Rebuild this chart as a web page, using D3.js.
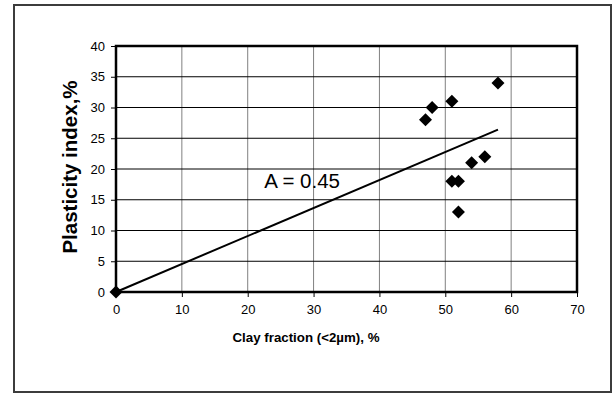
<!DOCTYPE html>
<html>
<head>
<meta charset="utf-8">
<script src="https://cdn.jsdelivr.net/npm/d3@7"></script>
<style>
  html, body { margin: 0; padding: 0; background: #fff; }
  svg { display: block; font-family: "Liberation Sans", Arial, sans-serif; }
</style>
</head>
<body>
<svg id="chart" width="614" height="394"></svg>
<script>
// ---- data ----
const clayFraction = [0, 47, 48, 51, 58, 56, 54, 51, 52, 52];
const plasticityIndex = [0, 28, 30, 31, 34, 22, 21, 18, 18, 13];
const lineX = [0, 58];
const lineY = [0, 26.4];
const xTicks = [0, 10, 20, 30, 40, 50, 60, 70];
const yTicks = [0, 5, 10, 15, 20, 25, 30, 35, 40];
const xTitle = "Clay fraction (<2\u00B5m), %";
const yTitle = "Plasticity index,%";
const annotation = "A = 0.45";

const svg = d3.select("#chart");
const L = 116, R = 577, T = 46, B = 292;
const x = d3.scaleLinear().domain([0, 70]).range([L, R]);
const y = d3.scaleLinear().domain([0, 40]).range([B, T]);

// outer frame
svg.append("rect").attr("x", 14).attr("y", 5).attr("width", 597).attr("height", 387)
  .attr("fill", "#fff").attr("stroke", "#3c3c3c").attr("stroke-width", 2);

// gridlines
svg.append("g").selectAll("line").data(xTicks.filter(d => d > 0 && d < 70)).join("line")
  .attr("x1", d => x(d)).attr("x2", d => x(d)).attr("y1", T).attr("y2", B)
  .attr("stroke", "#808080").attr("stroke-width", 1);
svg.append("g").selectAll("line").data(yTicks.filter(d => d > 0 && d < 40)).join("line")
  .attr("x1", L).attr("x2", R).attr("y1", d => y(d)).attr("y2", d => y(d))
  .attr("stroke", "#000").attr("stroke-width", 1);

// axes
const xAxis = svg.append("g").attr("transform", `translate(0,${B})`)
  .call(d3.axisBottom(x).tickValues(xTicks).tickSize(5).tickPadding(8));
const yAxis = svg.append("g").attr("transform", `translate(${L},0)`)
  .call(d3.axisLeft(y).tickValues(yTicks).tickSize(5).tickPadding(6));
[xAxis, yAxis].forEach(g => {
  g.select(".domain").remove();
  g.selectAll(".tick line").attr("stroke", "#000").attr("stroke-width", 1);
  g.selectAll(".tick text").attr("fill", "#000").attr("font-size", 13)
    .attr("font-family", "Liberation Sans, Arial, sans-serif");
});

// plot border
svg.append("rect").attr("x", L).attr("y", T).attr("width", R - L).attr("height", B - T)
  .attr("fill", "none").attr("stroke", "#000").attr("stroke-width", 2.5);

// trend line
svg.append("line")
  .attr("x1", x(lineX[0])).attr("y1", y(lineY[0]))
  .attr("x2", x(lineX[1])).attr("y2", y(lineY[1]))
  .attr("stroke", "#000").attr("stroke-width", 2);

// points (diamonds)
const h = 6.5;
svg.append("g").selectAll("path").data(clayFraction.map((c, i) => [c, plasticityIndex[i]])).join("path")
  .attr("d", d => {
    const cx = x(d[0]), cy = y(d[1]);
    return `M${cx},${cy - h}L${cx + h},${cy}L${cx},${cy + h}L${cx - h},${cy}Z`;
  })
  .attr("fill", "#000");

// annotation
svg.append("text").attr("x", x(22.5)).attr("y", 188).attr("font-size", 20.5)
  .attr("fill", "#000").text(annotation);

// axis titles
svg.append("text").attr("x", 306).attr("y", 342)
  .attr("text-anchor", "middle").attr("font-size", 13.3).attr("font-weight", "bold")
  .attr("fill", "#000").text(xTitle);
svg.append("text").attr("transform", `translate(77,167) rotate(-90)`)
  .attr("text-anchor", "middle").attr("font-size", 20.5).attr("font-weight", "bold")
  .attr("fill", "#000").text(yTitle);
</script>
</body>
</html>
